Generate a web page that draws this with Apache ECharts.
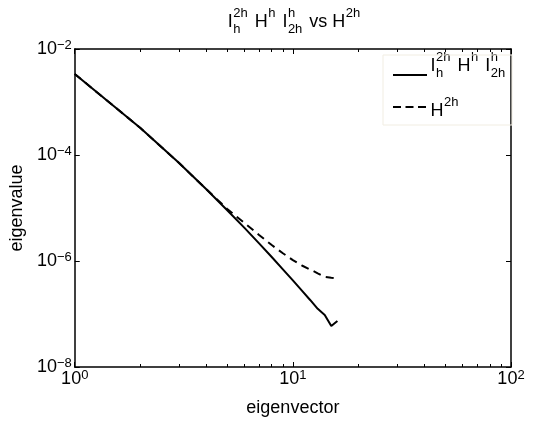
<!DOCTYPE html>
<html>
<head>
<meta charset="utf-8">
<script src="https://cdn.jsdelivr.net/npm/echarts@6/dist/echarts.min.js"></script>
<style>html,body{margin:0;padding:0;background:#fff;}#chart{width:533px;height:423px;}</style>
</head>
<body>
<div id="chart"></div>
<script>
// ---- data ----
const eigIndex = [1, 2, 3, 4, 5, 6, 7, 8, 9, 10, 11, 12, 13, 14, 15, 16];
const restrictedEig = [3.375e-3, 3.23e-4, 7.12e-5, 2.28e-5, 9.09e-6, 4.21e-6, 2.15e-6, 1.19e-6, 6.97e-7, 4.31e-7, 2.76e-7, 1.84e-7, 1.25e-7, 9.57e-8, 5.94e-8, 7.38e-8];
const coarseEig = [3.375e-3, 3.23e-4, 7.12e-5, 2.28e-5, 9.6e-6, 5.21e-6, 3.10e-6, 2.00e-6, 1.40e-6, 1.04e-6, 8.22e-7, 6.91e-7, 5.86e-7, 5.04e-7, 4.82e-7, 4.72e-7];
const xMinorTicks = [2, 3, 4, 5, 6, 7, 8, 9, 20, 30, 40, 50, 60, 70, 80, 90];
const xRange = [1, 100];
const yRange = [1e-8, 1e-2];
const xAxisName = 'eigenvector';
const yAxisName = 'eigenvalue';
const titleParts = [{t: 'I', sup: '2h', sub: 'h'}, {t: ' H', sup: 'h'}, {t: ' I', sup: 'h', sub: '2h'}, {t: ' vs H', sup: '2h'}];
const legendParts = [
  [{t: 'I', sup: '2h', sub: 'h'}, {t: ' H', sup: 'h'}, {t: ' I', sup: 'h', sub: '2h'}],
  [{t: 'H', sup: '2h'}]
];
const seriesNames = ['I_h^2h H^h I_2h^h', 'H^2h'];

const FONT = '"Liberation Sans", Arial, Helvetica, sans-serif';
const BASE = 18, SCRIPT = 13;
const chart = echarts.init(document.getElementById('chart'), null, {renderer: 'canvas'});

const mctx = document.createElement('canvas').getContext('2d');
function tw(text, size) { mctx.font = size + 'px ' + FONT; return mctx.measureText(text).width; }

function mathGroup(parts, x0, baseline, center) {
  const els = [];
  let x = 0;
  const raise = 10.5, lower = 5.5, k = 0.35, gap = 2;
  parts.forEach(p => {
    els.push({type: 'text', x: x, y: baseline - k * BASE,
      style: {text: p.t, fontSize: BASE, fontFamily: FONT, fill: '#000', align: 'left', verticalAlign: 'middle', textAlign: 'left', textVerticalAlign: 'middle'}});
    x += tw(p.t, BASE);
    let sw = 0;
    if (p.sup) {
      els.push({type: 'text', x: x + 0.5, y: baseline - raise - k * SCRIPT,
        style: {text: p.sup, fontSize: SCRIPT, fontFamily: FONT, fill: '#000', align: 'left', verticalAlign: 'middle', textAlign: 'left', textVerticalAlign: 'middle'}});
      sw = tw(p.sup, SCRIPT) + 0.5;
    }
    if (p.sub) {
      els.push({type: 'text', x: x + 0.5, y: baseline + lower - k * SCRIPT,
        style: {text: p.sub, fontSize: SCRIPT, fontFamily: FONT, fill: '#000', align: 'left', verticalAlign: 'middle', textAlign: 'left', textVerticalAlign: 'middle'}});
      sw = Math.max(sw, tw(p.sub, SCRIPT) + 0.5);
    }
    x += sw + (sw ? gap : 0);
  });
  const left = center ? x0 - x / 2 : x0;
  return {type: 'group', x: left, y: 0, children: els, silent: true};
}

function powLabel(v) {
  const e = Math.round(Math.log10(v));
  return '{b|10}{s|' + String(e).replace('-', '\u2212') + '}';
}
const labelRich = {
  b: {fontSize: BASE, fontFamily: FONT, color: '#000', lineHeight: 20},
  s: {fontSize: SCRIPT, fontFamily: FONT, color: '#000', lineHeight: 12, verticalAlign: 'top'}
};

const axisLineStyle = {color: '#000', width: 1.5};
function xAx(pos, major) {
  return {
    type: 'log', logBase: 10, min: xRange[0], max: xRange[1], position: pos,
    axisLine: {show: major, lineStyle: axisLineStyle, onZero: false},
    axisTick: major ? {show: true, inside: true, length: 5, lineStyle: {color: '#000', width: 1}}
                    : {show: true, inside: true, length: 3, customValues: xMinorTicks, lineStyle: {color: '#000', width: 1}},
    axisLabel: {show: major && pos === 'bottom', formatter: powLabel, rich: labelRich, margin: 2},
    splitLine: {show: false},
    minorTick: {show: false}
  };
}
function yAx(pos) {
  return {
    type: 'log', logBase: 10, min: yRange[0], max: yRange[1], interval: 2, position: pos,
    axisLine: {show: true, lineStyle: axisLineStyle, onZero: false},
    axisTick: {show: true, inside: true, length: 5, lineStyle: {color: '#000', width: 1}},
    axisLabel: {show: pos === 'left', formatter: powLabel, rich: labelRich, margin: 3},
    splitLine: {show: false}
  };
}

const xAxes = [xAx('bottom', true), xAx('bottom', false), xAx('top', true), xAx('top', false)];
xAxes[0].name = xAxisName;
xAxes[0].nameLocation = 'middle';
xAxes[0].nameGap = 32;
xAxes[0].nameTextStyle = {fontSize: BASE, fontFamily: FONT, color: '#000'};
const yAxes = [yAx('left'), yAx('right')];
yAxes[0].name = yAxisName;
yAxes[0].nameLocation = 'middle';
yAxes[0].nameGap = 39;
yAxes[0].nameTextStyle = {fontSize: BASE, fontFamily: FONT, color: '#000'};

const option = {
  animation: false,
  backgroundColor: '#fff',
  grid: {left: 73, right: 22, top: 49, bottom: 56, containLabel: false},
  xAxis: xAxes,
  yAxis: yAxes,
  legend: {
    orient: 'vertical', left: 392, top: 68, padding: 0, itemWidth: 34, itemHeight: 14, itemGap: 19.5,
    formatter: () => '', textStyle: {fontSize: 1},
    itemStyle: {opacity: 0},
    data: [
      {name: seriesNames[0]},
      {name: seriesNames[1], lineStyle: {type: [8, 4.5]}}
    ],
    selectedMode: false
  },
  series: [
    {name: seriesNames[0], type: 'line', xAxisIndex: 0, yAxisIndex: 0, symbol: 'none',
     lineStyle: {color: '#000', width: 2, type: 'solid'}, itemStyle: {color: '#000'},
     data: eigIndex.map((x, i) => [x, restrictedEig[i]])},
    {name: seriesNames[1], type: 'line', xAxisIndex: 0, yAxisIndex: 0, symbol: 'none',
     lineStyle: {color: '#000', width: 2, type: [8, 5.5]}, itemStyle: {color: '#000'},
     data: eigIndex.map((x, i) => [x, coarseEig[i]])}
  ],
  graphic: [
    {type: 'rect', shape: {x: 383, y: 55, width: 129, height: 70}, style: {fill: 'rgba(255,255,255,0)', stroke: '#f1ede2', lineWidth: 1}, silent: true, z: 1},
    mathGroup(titleParts, 295, 28.5, true),
    mathGroup(legendParts[0], 430.5, 72.5, false),
    mathGroup(legendParts[1], 430.5, 117, false)
  ]
};
chart.setOption(option);
</script>
</body>
</html>
